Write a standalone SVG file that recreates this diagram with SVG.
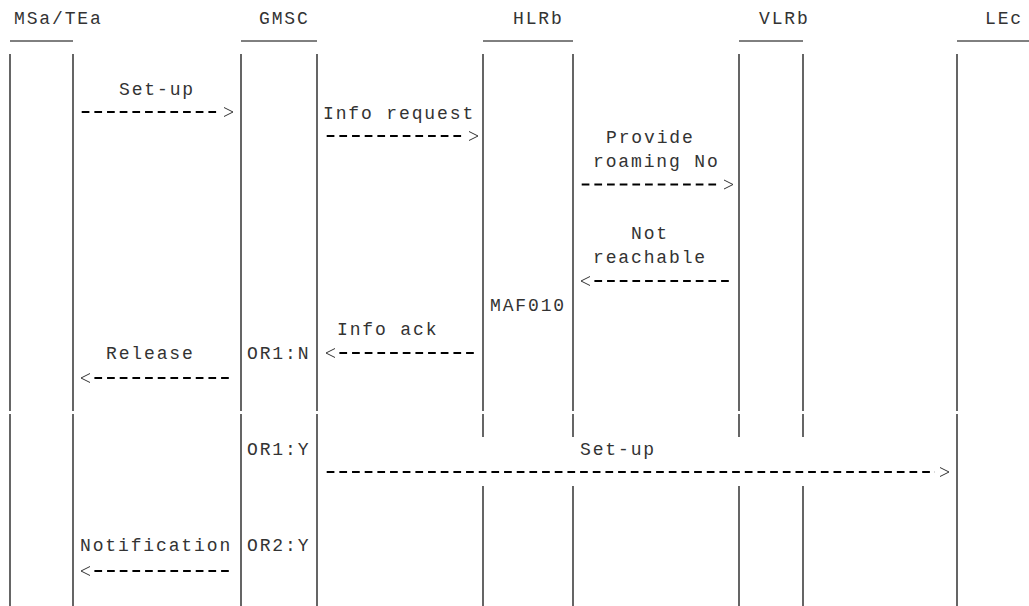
<svg xmlns="http://www.w3.org/2000/svg" width="1029" height="606" viewBox="0 0 1029 606">
<style>
text{font-family:"Liberation Mono","Courier New",monospace;font-size:18px;letter-spacing:1.87px;fill:#333}
.life{stroke:#000;stroke-width:1.2;fill:none}
.ul{stroke:#000;stroke-width:1;fill:none}
.dash{stroke:#000;stroke-width:2;stroke-dasharray:7.7 4.97;fill:none}
.head{stroke:#333;stroke-width:1;fill:none}
</style>
<rect width="1029" height="606" fill="#fff"/>
<g id="node-msa">
<text x="14" y="24">MSa/TEa</text>
<line class="ul" x1="10" y1="41" x2="73" y2="41"/>
<path class="life" d="M10,54V411M10,414V606M73,54V411M73,414V606"/>
</g>
<g id="node-gmsc">
<text x="259" y="24">GMSC</text>
<line class="ul" x1="241" y1="41" x2="317" y2="41"/>
<path class="life" d="M241,54V411M241,414V606M317,54V411M317,414V606"/>
<text x="247" y="359">OR1:N</text>
<text x="247" y="455">OR1:Y</text>
<text x="247" y="551">OR2:Y</text>
</g>
<g id="node-hlrb">
<text x="513" y="24">HLRb</text>
<line class="ul" x1="483" y1="41" x2="573" y2="41"/>
<path class="life" d="M483,54V411M483,414V437M483,486V606M573,54V411M573,414V437M573,486V606"/>
<text x="490" y="311">MAF010</text>
</g>
<g id="node-vlrb">
<text x="759" y="24">VLRb</text>
<line class="ul" x1="739" y1="41" x2="803" y2="41"/>
<path class="life" d="M739,54V411M739,414V437M739,486V606M803,54V411M803,414V437M803,486V606"/>
</g>
<g id="node-lec">
<text x="985" y="24">LEc</text>
<line class="ul" x1="957" y1="41" x2="1029" y2="41"/>
<path class="life" d="M957,54V411M957,414V606"/>
</g>
<g id="connectors">
<g id="c-setup1">
<text x="119" y="95">Set-up</text>
<line class="dash" x1="81.7" y1="112" x2="220" y2="112"/>
<path class="head" d="M224,107.5L233,112L224,116.5"/>
</g>
<g id="c-inforeq">
<text x="323" y="119">Info request</text>
<line class="dash" x1="326.7" y1="136" x2="465" y2="136"/>
<path class="head" d="M469,131.5L478,136L469,140.5"/>
</g>
<g id="c-prn">
<text x="606" y="143">Provide</text>
<text x="593" y="167">roaming No</text>
<line class="dash" x1="581.7" y1="184.5" x2="720" y2="184.5"/>
<path class="head" d="M724,180L733,184.5L724,189"/>
</g>
<g id="c-notreach">
<text x="631" y="239">Not</text>
<text x="593" y="263">reachable</text>
<path class="head" d="M590,276.5L581,281L590,285.5"/>
<line class="dash" x1="594.4" y1="281" x2="731" y2="281"/>
</g>
<g id="c-infoack">
<text x="337" y="335">Info ack</text>
<path class="head" d="M335,348.5L326,353L335,357.5"/>
<line class="dash" x1="339.4" y1="353" x2="475" y2="353"/>
</g>
<g id="c-release">
<text x="106" y="359">Release</text>
<path class="head" d="M90,373.5L81,378L90,382.5"/>
<line class="dash" x1="94.4" y1="378" x2="232" y2="378"/>
</g>
<g id="c-setup2">
<text x="580" y="455">Set-up</text>
<line class="dash" x1="326.7" y1="472" x2="935" y2="472"/>
<path class="head" d="M940,467.5L949,472L940,476.5"/>
</g>
<g id="c-notif">
<text x="80" y="551">Notification</text>
<path class="head" d="M90,566.5L81,571L90,575.5"/>
<line class="dash" x1="94.4" y1="571" x2="232" y2="571"/>
</g>
</g>
</svg>
